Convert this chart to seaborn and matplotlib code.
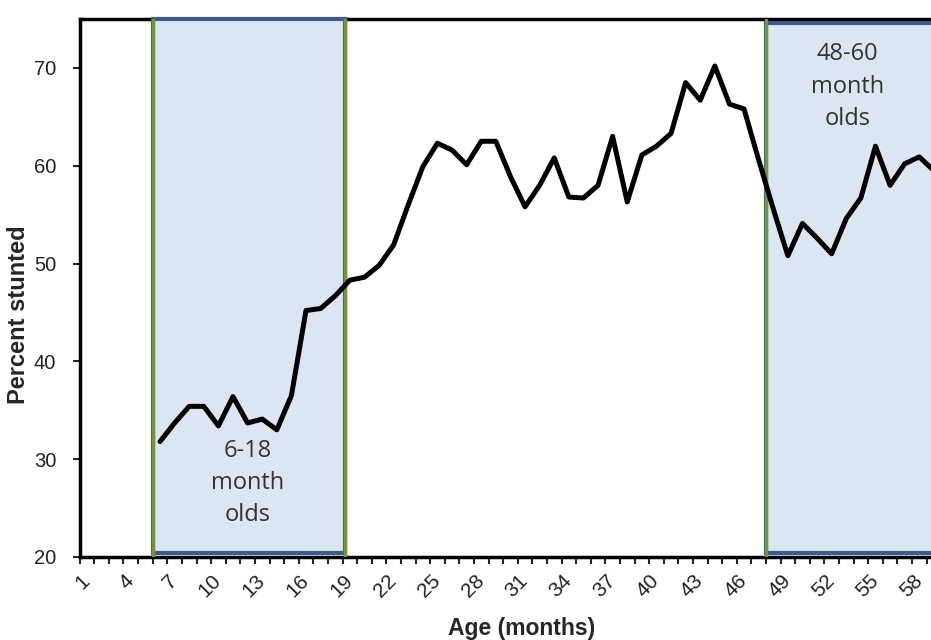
import numpy as np
import pandas as pd
import matplotlib
matplotlib.use("Agg")
import matplotlib.pyplot as plt
from matplotlib.patches import Rectangle
import seaborn as sns

# data
months = list(range(6, 60))
pct_stunted = [31.8, 33.7, 35.4, 35.4, 33.4, 36.4, 33.7, 34.1, 33.0, 36.5,
               45.2, 45.4, 46.7, 48.3, 48.6, 49.8, 51.9, 56.0, 59.9, 62.3,
               61.6, 60.1, 62.5, 62.5, 58.9, 55.8, 58.0, 60.8, 56.8, 56.7,
               58.0, 63.0, 56.3, 61.1, 62.0, 63.3, 68.5, 66.7, 70.2, 66.3,
               65.8, 60.6, 55.6, 50.8, 54.1, 52.6, 51.0, 54.6, 56.7, 62.0,
               58.0, 60.2, 60.9, 59.5]
tick_months = list(range(1, 61, 3))
y_ticks = [20, 30, 40, 50, 60, 70]
box_young = (5.5, 18.7)
box_old = (47.5, 61.0)
label_young = "6-18\nmonth\nolds"
label_old = "48-60\nmonth\nolds"

sns.set_style("white")
plt.rcParams['font.family'] = ['Liberation Sans', 'DejaVu Sans']

df = pd.DataFrame({"month": months, "pct": pct_stunted})

fig = plt.figure(figsize=(9.31, 6.4), dpi=100)
ax = fig.add_axes([0.0856, 0.1297, 0.941, 0.8406])

# shaded age groups
fill = '#dce6f2'
edge = '#385d8a'
green = '#77933c'
ax.add_patch(Rectangle((box_young[0], 20.45), box_young[1] - box_young[0], 54.5,
                       facecolor=fill, edgecolor=edge, lw=3, zorder=2.6, clip_on=False))
ax.add_patch(Rectangle((box_old[0], 20.45), box_old[1] - box_old[0], 54.15,
                       facecolor=fill, edgecolor=edge, lw=3, zorder=2.6))
for xv in [box_young[0], box_young[1], box_old[0]]:
    ax.axvline(xv, color=green, lw=2.5, zorder=2.7)

sns.lineplot(data=df, x="month", y="pct", color='black', lw=3.6, ax=ax, zorder=3)

ax.text(12.0, 27.6, label_young, ha='center', va='center', fontsize=17,
        family='Open Sans', color='#333333', linespacing=1.45, zorder=4)
ax.text(53.1, 68.1, label_old, ha='center', va='center', fontsize=17,
        family='Open Sans', color='#333333', linespacing=1.45, zorder=4)

ax.set_xlim(0.5, 60.5)
ax.set_ylim(20, 75)
ax.set_yticks(y_ticks)
ax.set_xticks(tick_months)
ax.set_xticklabels([str(m) for m in tick_months], rotation=45, ha='right',
                   va='center', rotation_mode='anchor')
ax.set_xticks(np.arange(0.5, 61, 1), minor=True)
ax.tick_params(axis='x', which='major', length=0, pad=15, labelsize=15,
               labelcolor='#222222')
ax.tick_params(axis='x', which='minor', length=5, width=1.5, direction='out', bottom=True)
ax.tick_params(axis='y', length=5, width=1.5, direction='out', left=True, pad=12,
               labelsize=14.5, labelcolor='#222222')

for side in ['left', 'bottom', 'top']:
    ax.spines[side].set_color('black')
    ax.spines[side].set_linewidth(2.5)

ax.set_xlabel('Age (months)', fontsize=16.5, fontweight='bold')
ax.set_ylabel('Percent stunted', fontsize=17, fontweight='bold')
ax.xaxis.set_label_coords(0.505, -0.112)
ax.yaxis.set_label_coords(-0.057, 0.45)

fig.savefig('out.png', dpi=100)
